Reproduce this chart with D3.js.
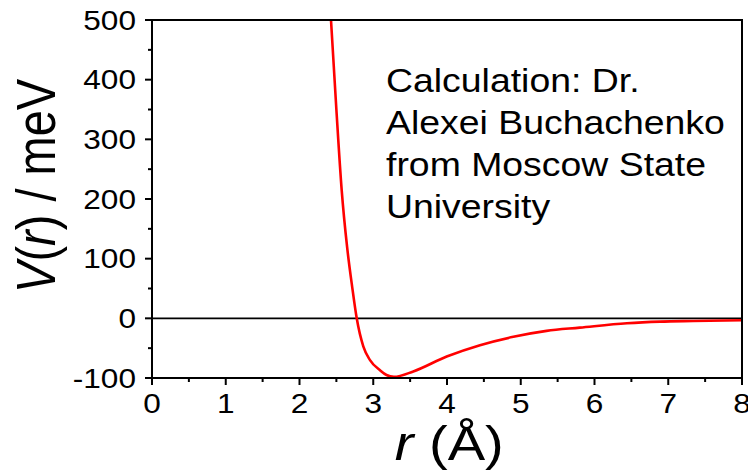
<!DOCTYPE html>
<html>
<head>
<meta charset="utf-8">
<script src="https://cdn.jsdelivr.net/npm/d3@7"></script>
<style>
  body { margin: 0; background: #fff; }
  text { font-family: "Liberation Sans", Arial, sans-serif; fill: #000; }
</style>
</head>
<body>
<div id="chart"></div>
<script>
// potential curve V(r)
var rValues = [2.427, 2.50, 2.572, 2.645, 2.715, 2.776, 2.865, 2.956, 3.092, 3.18, 3.28, 3.543, 3.996, 4.447, 4.90, 5.35, 5.80, 6.44, 6.89, 7.34, 8.0];
var vValues = [500, 350, 215, 120, 52, 0, -47, -70, -87, -95, -98, -89, -64, -45, -31, -21, -15.6, -8.2, -5.5, -4.4, -3.2];

var xTicks = [0, 1, 2, 3, 4, 5, 6, 7, 8];
var xMinor = [0.5, 1.5, 2.5, 3.5, 4.5, 5.5, 6.5, 7.5];
var yTicks = [-100, 0, 100, 200, 300, 400, 500];
var yMinor = [-50, 50, 150, 250, 350, 450];

var note = ["Calculation: Dr.", "Alexei Buchachenko", "from Moscow State", "University"];

var W = 748, H = 471;
var margin = {top: 20, right: 6, bottom: 93, left: 152};
var width = W - margin.left - margin.right;
var height = H - margin.top - margin.bottom;
var sx = 1.17; // the original figure is stretched sideways

var svg = d3.select("#chart").append("svg")
    .attr("width", W).attr("height", H);

var g = svg.append("g")
    .attr("transform", "translate(" + margin.left + "," + margin.top + ")");

var x = d3.scaleLinear().domain([0, 8]).range([0, width]);
var y = d3.scaleLinear().domain([-100, 500]).range([height, 0]);

g.append("clipPath").attr("id", "clip")
  .append("rect").attr("width", width).attr("height", height);

// zero line
g.append("line")
    .attr("x1", 0).attr("x2", width)
    .attr("y1", y(0)).attr("y2", y(0))
    .attr("stroke", "#000").attr("stroke-width", 1.6);

// the curve
var pts = rValues.map(function(r, i){ return [r, vValues[i]]; });
g.append("path")
    .datum(pts)
    .attr("clip-path", "url(#clip)")
    .attr("fill", "none")
    .attr("stroke", "#ff0000")
    .attr("stroke-width", 2.6)
    .attr("d", d3.line()
        .x(function(d){ return x(d[0]); })
        .y(function(d){ return y(d[1]); })
        .curve(d3.curveMonotoneX));

// frame
g.append("rect")
    .attr("width", width).attr("height", height)
    .attr("fill", "none").attr("stroke", "#000").attr("stroke-width", 2);

// ticks
g.selectAll(".xmaj").data(xTicks).enter().append("line")
    .attr("x1", function(d){ return x(d); }).attr("x2", function(d){ return x(d); })
    .attr("y1", height).attr("y2", height + 7)
    .attr("stroke", "#000").attr("stroke-width", 2);
g.selectAll(".xmin").data(xMinor).enter().append("line")
    .attr("x1", function(d){ return x(d); }).attr("x2", function(d){ return x(d); })
    .attr("y1", height).attr("y2", height + 4)
    .attr("stroke", "#000").attr("stroke-width", 2);
g.selectAll(".ymaj").data(yTicks).enter().append("line")
    .attr("y1", function(d){ return y(d); }).attr("y2", function(d){ return y(d); })
    .attr("x1", 0).attr("x2", -7)
    .attr("stroke", "#000").attr("stroke-width", 2);
g.selectAll(".ymin").data(yMinor).enter().append("line")
    .attr("y1", function(d){ return y(d); }).attr("y2", function(d){ return y(d); })
    .attr("x1", 0).attr("x2", -4)
    .attr("stroke", "#000").attr("stroke-width", 2);

// tick labels
g.selectAll(".xlab").data(xTicks).enter().append("text")
    .attr("transform", function(d){ return "translate(" + x(d) + "," + (height + 35) + ") scale(" + sx + ",1)"; })
    .attr("text-anchor", "middle")
    .style("font-size", "27px")
    .text(function(d){ return d; });
g.selectAll(".ylab").data(yTicks).enter().append("text")
    .attr("transform", function(d){ return "translate(-16," + (y(d) + 9.5) + ") scale(" + sx + ",1)"; })
    .attr("text-anchor", "end")
    .style("font-size", "27px")
    .text(function(d){ return d; });

// axis titles
var xt = g.append("text")
    .attr("transform", "translate(" + x(4.03) + "," + (height + 82) + ") scale(" + sx + ",1)")
    .attr("text-anchor", "middle")
    .style("font-size", "48px");
xt.append("tspan").style("font-style", "italic").text("r");
xt.append("tspan").text(" (\u00C5)");

var yt = g.append("text")
    .attr("transform", "translate(-97," + (y(222)) + ") scale(" + sx + ",1) rotate(-90)")
    .attr("text-anchor", "middle")
    .style("font-size", "47px");
yt.append("tspan").style("font-style", "italic").text("V");
yt.append("tspan").text("(");
yt.append("tspan").style("font-style", "italic").text("r");
yt.append("tspan").text(") / meV");

// annotation
g.selectAll(".note").data(note).enter().append("text")
    .attr("transform", function(d, i){ return "translate(" + (386 - margin.left) + "," + (92 - margin.top + i * 42) + ") scale(1.1,1)"; })
    .style("font-size", "34px")
    .text(function(d){ return d; });
</script>
</body>
</html>
